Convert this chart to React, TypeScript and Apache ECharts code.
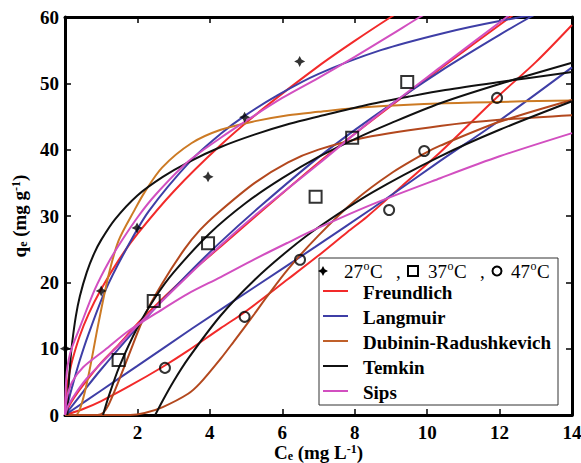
import React, { useEffect, useRef } from "react";
import * as echarts from "echarts";

const FONT = '"Liberation Serif", "Times New Roman", serif';

// Measured data points (Ce, qe)
const stars27 = [[0.01, 10], [1.0, 18.7], [1.99, 28.2], [3.95, 35.9], [4.96, 44.9], [6.48, 53.3]];
const squares37 = [[1.48, 8.3], [2.45, 17.2], [3.95, 25.9], [6.92, 32.9], [7.93, 41.8], [9.45, 50.2]];
const circles47 = [[2.76, 7.1], [4.96, 14.8], [6.49, 23.4], [8.95, 30.9], [9.92, 39.8], [11.93, 47.8]];

// Model curves
const freundlich27 = [[0, 0], [0.02, 2.5], [0.05, 4], [0.1, 5.7], [0.2, 8.2], [0.4, 11.8], [0.65, 15.2], [1, 19], [1.5, 23.5], [2, 27.3], [3, 33.7], [4.3, 40.7], [5.5, 46.3], [7, 52.6], [8, 56.4], [9, 60], [9.5, 61.7]];
const freundlich37 = [[0, 0], [0.1, 1.2], [0.25, 2.6], [0.5, 4.5], [1, 7.9], [1.5, 10.7], [2.13, 14.5], [3.4, 21.2], [4.3, 25.4], [5.4, 30.6], [6.99, 38], [8.5, 44.5], [10.36, 52.2], [12.3, 60], [12.6, 61.2]];
const freundlich47 = [[0, 0], [0.5, 0.9], [1, 2.1], [1.76, 4.3], [2.68, 7.2], [3.4, 9.7], [4.3, 13.1], [4.96, 15.5], [6.16, 20.5], [6.99, 24], [7.8, 27.6], [8.34, 29.9], [9.3, 34.5], [10.36, 39.6], [11.93, 47.9], [13, 53.2], [14, 58.8]];

const langmuir27 = [[0, 0], [0.05, 1.1], [0.1, 2.2], [0.19, 4.1], [0.4, 8.1], [0.65, 12.2], [1.1, 18.6], [1.66, 24.7], [2.31, 30.7], [3.5, 38.5], [4.3, 42.4], [4.96, 45.1], [5.9, 48.3], [6.99, 51.4], [8.72, 55], [10.47, 57.6], [12, 59.4], [14, 61.3]];
const langmuir37 = [[0, 0], [0.5, 3.5], [1, 6.9], [2.13, 14], [3.4, 21.3], [4.3, 26.1], [5.4, 31.5], [6.99, 38.8], [8.5, 44.9], [10.36, 51.8], [12, 57.3], [12.85, 60], [13.2, 61]];
const langmuir47 = [[0, 0], [1, 3.7], [2, 7.4], [3.5, 13], [5.24, 19.3], [6.9, 25.3], [8.5, 31.2], [10.36, 38.3], [12, 44.4], [14, 52.4]];

const dr27 = [[0, 0], [0.3, 0], [0.45, 1.5], [0.65, 6], [0.93, 14], [1.2, 21], [1.48, 26.3], [1.93, 31], [2.2, 33.6], [2.68, 37.3], [3.5, 41], [4.3, 43], [5.25, 44.3], [6.16, 45.2], [7, 45.7], [8.26, 46.4], [10.5, 47], [14, 47.4]];
const dr37 = [[0, 0], [0.9, 0], [1.05, 0.3], [1.2, 1.5], [1.4, 4], [1.76, 9], [2.2, 15], [2.68, 19.8], [3.3, 25], [3.73, 27.9], [4.23, 30.5], [5.24, 35], [6.16, 38.1], [7, 40], [8.26, 41.8], [10.4, 43.6], [12, 44.5], [14, 45.2]];
const dr47 = [[0, 0], [1.8, 0], [2.2, 0.3], [2.7, 1.2], [3.4, 3.2], [3.73, 4.8], [4.3, 8.5], [4.65, 11], [5.24, 15.3], [5.57, 17.8], [6.16, 22], [6.99, 27], [8, 32.3], [9, 36.4], [9.92, 39.4], [10.36, 40.6], [12, 44.2], [14, 47.5]];

const temkin27 = [[0.065, 0], [0.1, 4.4], [0.15, 8.3], [0.2, 11], [0.3, 14.9], [0.41, 17.9], [0.6, 21.5], [0.8, 24.3], [1, 26.4], [1.38, 29.5], [2, 33.1], [2.7, 35.9], [3.4, 38.1], [4.3, 40.4], [5.25, 42.3], [6.2, 43.9], [7, 45], [8.3, 46.7], [9.5, 48], [10.5, 49], [12, 50.2], [14, 51.7]];
const temkin37 = [[1.05, 0], [1.2, 2.7], [1.5, 7.3], [2, 13.2], [2.5, 17.8], [3, 21.5], [4, 27.4], [5, 32], [6, 35.7], [7, 38.9], [8, 41.6], [9, 44], [10.36, 47], [12, 49.9], [14, 53.1]];
const temkin47 = [[2.49, 0], [2.7, 2.2], [3, 5.1], [3.4, 8.5], [4.3, 15], [5.24, 20.4], [6.16, 24.8], [7, 28.3], [8.5, 33.6], [10.36, 39], [12, 43], [14, 47.3]];

const sips27 = [[0, 0], [0.02, 4], [0.05, 6.5], [0.1, 8.3], [0.2, 10.3], [0.38, 12.8], [0.83, 19], [1.2, 23], [1.57, 26.3], [2.03, 30], [2.5, 33.2], [3.4, 38.2], [4.3, 41.8], [4.96, 44.2], [6, 47.8], [6.99, 50.8], [8, 54], [9, 57.3], [9.8, 60], [10.2, 61.2]];
const sips37 = [[0, 0], [0.1, 1.5], [0.3, 3.3], [0.6, 5.5], [1, 7.8], [1.5, 10.6], [2.13, 14.2], [3.4, 21], [4.3, 25.6], [5.4, 30.8], [6.99, 37.8], [8.5, 44.6], [10.36, 52.4], [12.2, 60], [12.5, 61.2]];
const sips47 = [[0, 0], [0.05, 2.5], [0.2, 5], [0.5, 7.2], [1.1, 9.8], [1.76, 12.7], [2.68, 15.9], [3.4, 18.3], [4.3, 20.8], [5.24, 23.5], [6.16, 26], [6.99, 28.2], [8.5, 31.8], [10.36, 35.7], [12, 39], [14, 42.5]];

const xTicks = { min: 0, max: 14, interval: 2 };
const yTicks = { min: 0, max: 60, interval: 10 };

const legendModels = ["Freundlich", "Langmuir", "Dubinin-Radushkevich", "Temkin", "Sips"];
const legendColors = ["#f22a2a", "#3e3ea6", "#c0602a", "#111111", "#d24fc0"];

const curves = [
  { name: "Freundlich", data: freundlich27, color: "#f22a2a" },
  { name: "Freundlich", data: freundlich37, color: "#f22a2a" },
  { name: "Freundlich", data: freundlich47, color: "#f22a2a" },
  { name: "Langmuir", data: langmuir27, color: "#3e3ea6" },
  { name: "Langmuir", data: langmuir37, color: "#3e3ea6" },
  { name: "Langmuir", data: langmuir47, color: "#3e3ea6" },
  { name: "Dubinin-Radushkevich", data: dr27, color: "#cc7a24" },
  { name: "Dubinin-Radushkevich", data: dr37, color: "#b3481e" },
  { name: "Dubinin-Radushkevich", data: dr47, color: "#b3481e" },
  { name: "Temkin", data: temkin27, color: "#111111" },
  { name: "Temkin", data: temkin37, color: "#111111" },
  { name: "Temkin", data: temkin47, color: "#111111" },
  { name: "Sips", data: sips27, color: "#d24fc0" },
  { name: "Sips", data: sips37, color: "#d24fc0" },
  { name: "Sips", data: sips47, color: "#d24fc0" },
];

const STAR = "path://M0,-10 L3.4,-3.4 L10,0 L3.4,3.4 L0,10 L-3.4,3.4 L-10,0 L-3.4,-3.4 Z";

const axisRich = {
  b: { fontFamily: FONT, fontWeight: "bold", fontSize: 19, color: "#000", lineHeight: 20 },
  sub: { fontFamily: FONT, fontWeight: "bold", fontSize: 12, color: "#000", lineHeight: 12, padding: [7, 0, 0, 0] },
  sup: { fontFamily: FONT, fontWeight: "bold", fontSize: 12, color: "#000", lineHeight: 12, padding: [0, 0, 7, 0] },
};

function buildOption() {
  const axisLine = { show: true, onZero: false, lineStyle: { color: "#000", width: 3 } };
  const axisTick = { show: true, inside: true, length: 6, lineStyle: { color: "#000", width: 1.5 } };
  const labelStyle = { fontFamily: FONT, fontWeight: "bold", fontSize: 19, color: "#000" };

  const lineSeries = curves.map((c) => ({
    type: "line",
    name: c.name,
    data: c.data,
    showSymbol: false,
    smooth: 0.3,
    clip: true,
    silent: true,
    z: 2,
    lineStyle: { color: c.color, width: 2 },
    itemStyle: { color: c.color },
  }));

  const scatterSeries = [
    {
      type: "scatter", name: "27", data: stars27, symbol: STAR, symbolSize: 11, z: 4,
      itemStyle: { color: "#000" },
    },
    {
      type: "scatter", name: "37", data: squares37, symbol: "rect", symbolSize: 12, z: 4,
      itemStyle: { color: "rgba(0,0,0,0)", borderColor: "#000", borderWidth: 2 },
    },
    {
      type: "scatter", name: "47", data: circles47, symbol: "circle", symbolSize: 10, z: 4,
      itemStyle: { color: "rgba(0,0,0,0)", borderColor: "#000", borderWidth: 2 },
    },
  ];

  // Legend (drawn as graphic elements)
  const LX = 319, LY = 258, LW = 239, LH = 147;
  const rowY = [291, 316, 341, 366, 391];
  const r1 = 271;
  const numFont = `19px ${FONT}`;
  const supFont = `12px ${FONT}`;
  const tempLabel = (x: number, num: string) => [
    { type: "text", x, y: r1, z: 101, style: { text: num, font: numFont, fill: "#000", verticalAlign: "middle" } },
    { type: "text", x: x + 19.5, y: r1 - 5, z: 101, style: { text: "o", font: supFont, fill: "#000", verticalAlign: "middle" } },
    { type: "text", x: x + 26, y: r1, z: 101, style: { text: "C", font: numFont, fill: "#000", verticalAlign: "middle" } },
  ];
  const graphics: any[] = [
    { type: "rect", shape: { x: LX, y: LY, width: LW, height: LH }, style: { fill: "#fff", stroke: "#333", lineWidth: 1 }, z: 100 },
    {
      type: "polygon", z: 101,
      shape: { points: [[323, 266], [324.7, 269.3], [328, 271], [324.7, 272.7], [323, 276], [321.3, 272.7], [318, 271], [321.3, 269.3]] },
      style: { fill: "#000" },
    },
    ...tempLabel(344, "27"),
    { type: "text", x: 396, y: r1, z: 101, style: { text: ",", font: numFont, fill: "#000", verticalAlign: "middle" } },
    { type: "rect", z: 101, shape: { x: 408, y: 266, width: 10, height: 10 }, style: { fill: "none", stroke: "#000", lineWidth: 2 } },
    ...tempLabel(428, "37"),
    { type: "text", x: 480, y: r1, z: 101, style: { text: ",", font: numFont, fill: "#000", verticalAlign: "middle" } },
    { type: "circle", z: 101, shape: { cx: 497, cy: 271, r: 4.5 }, style: { fill: "none", stroke: "#000", lineWidth: 2 } },
    ...tempLabel(511, "47"),
  ];
  legendModels.forEach((name, i) => {
    graphics.push({
      type: "line", z: 101,
      shape: { x1: 323, y1: rowY[i], x2: 348, y2: rowY[i] },
      style: { stroke: legendColors[i], lineWidth: 2 },
    });
    graphics.push({
      type: "text", x: 363, y: rowY[i] + 1, z: 101,
      style: { text: name, font: `bold 19px ${FONT}`, fill: "#000", verticalAlign: "middle" },
    });
  });

  return {
    animation: false,
    backgroundColor: "#fff",
    grid: { left: 65, top: 17, right: 9, bottom: 48, containLabel: false, outerBoundsMode: "none" },
    xAxis: [
      {
        type: "value", position: "bottom", ...xTicks,
        axisLine, axisTick,
        axisLabel: { ...labelStyle, margin: 8, formatter: (v: number) => (v === 0 ? "" : String(v)) },
        splitLine: { show: false },
        name: "{b|C}{sub|e}{b| (mg L}{sup|-1}{b|)}",
        nameLocation: "middle", nameGap: 27, nameMoveOverlap: false,
        nameTextStyle: { rich: axisRich },
      },
      {
        type: "value", position: "top", ...xTicks,
        axisLine, axisTick, axisLabel: { show: false }, splitLine: { show: false },
      },
    ],
    yAxis: [
      {
        type: "value", position: "left", ...yTicks,
        axisLine, axisTick,
        axisLabel: { ...labelStyle, margin: 6 },
        splitLine: { show: false },
        name: "{b|q}{sub|e}{b| (mg g}{sup|-1}{b|)}",
        nameLocation: "middle", nameGap: 36,
        nameTextStyle: { rich: axisRich },
      },
      {
        type: "value", position: "right", ...yTicks,
        axisLine, axisTick, axisLabel: { show: false }, splitLine: { show: false },
      },
    ],
    series: [...lineSeries, ...scatterSeries],
    graphic: graphics,
  };
}

export default function App() {
  const ref = useRef<HTMLDivElement>(null);
  useEffect(() => {
    if (!ref.current) return;
    const chart = echarts.init(ref.current, null, { renderer: "svg" });
    chart.setOption(buildOption() as any);
    return () => chart.dispose();
  }, []);
  return (
    <div
      ref={ref}
      style={{ position: "fixed", left: 0, top: 0, width: 581, height: 463, background: "#fff" }}
    />
  );
}
